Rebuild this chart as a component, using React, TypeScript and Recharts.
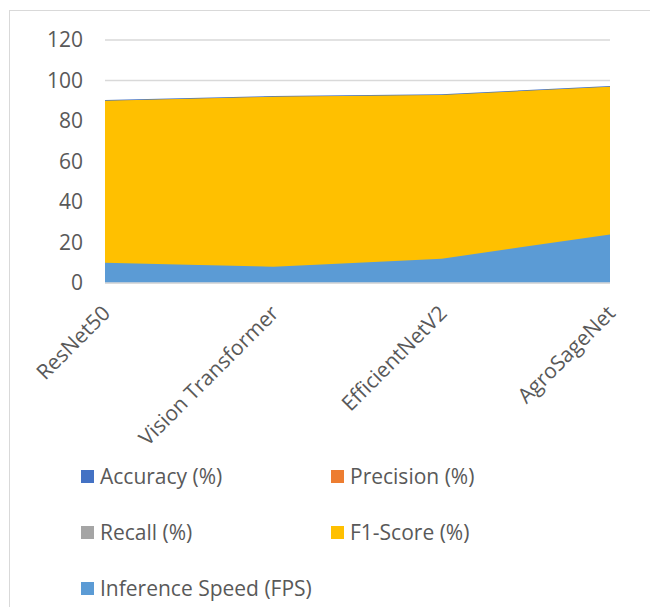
import { AreaChart, Area, XAxis, YAxis, CartesianGrid, Legend } from "recharts";

// model names on the category axis
const models = ["ResNet50", "Vision Transformer", "EfficientNetV2", "AgroSageNet"];

// series values
const accuracy = [90.4, 92.3, 93.2, 97.3];
const precision = [89.7, 91.8, 92.6, 96.7];
const recall = [89.5, 91.5, 92.4, 96.5];
const f1Score = [90.0, 92.0, 92.9, 96.9];
const inferenceSpeed = [10, 8, 12, 24];

const yTicks = [0, 20, 40, 60, 80, 100, 120];

const SERIES = [
  { key: "accuracy", name: "Accuracy (%)", color: "#4472C4" },
  { key: "precision", name: "Precision (%)", color: "#ED7D31" },
  { key: "recall", name: "Recall (%)", color: "#A5A5A5" },
  { key: "f1", name: "F1-Score (%)", color: "#FFC000" },
  { key: "speed", name: "Inference Speed (FPS)", color: "#5B9BD5" },
];

const FONT = "'Open Sans', sans-serif";
const TEXT = "#595959";

const data = models.map((model, i) => ({
  model,
  accuracy: accuracy[i],
  precision: precision[i],
  recall: recall[i],
  f1: f1Score[i],
  speed: inferenceSpeed[i],
}));

function LegendGrid() {
  return (
    <div style={{ display: "grid", gridTemplateColumns: "250px 250px", gridAutoRows: "56px" }}>
      {SERIES.map((s) => (
        <div key={s.key} style={{ display: "flex", alignItems: "center", fontFamily: FONT, fontSize: 21, color: TEXT, whiteSpace: "nowrap" }}>
          <span style={{ display: "inline-block", width: 13, height: 13, background: s.color, marginRight: 6 }} />
          {s.name}
        </div>
      ))}
    </div>
  );
}

export default function App() {
  // fixed box so the chart frame can run past the window edge without scrollbars
  return (
    <div
      style={{
        position: "fixed",
        left: 9,
        top: 10,
        width: 660,
        height: 620,
        borderTop: "1px solid #D9D9D9",
        borderLeft: "1px solid #D9D9D9",
        background: "#fff",
      }}
    >
      <AreaChart width={633} height={610} data={data} margin={{ top: 29, right: 33, left: 0, bottom: 22 }} style={{ fontFamily: FONT }}>
        <CartesianGrid vertical={false} stroke="#D9D9D9" strokeWidth={1.3} />
        <XAxis
          dataKey="model"
          height={316}
          interval={0}
          angle={-45}
          textAnchor="end"
          tickLine={false}
          tickMargin={15}
          axisLine={{ stroke: "#D9D9D9", strokeWidth: 1.3 }}
          tick={{ fill: TEXT, fontSize: 21, fontFamily: FONT, dx: -4 }}
        />
        <YAxis
          width={95}
          domain={[0, 120]}
          ticks={yTicks}
          axisLine={false}
          tickLine={false}
          tickMargin={16}
          tick={{ fill: TEXT, fontSize: 21, fontFamily: FONT }}
        />
        {SERIES.map((s) => (
          <Area
            key={s.key}
            type="linear"
            dataKey={s.key}
            name={s.name}
            fill={s.color}
            fillOpacity={1}
            stroke="none"
            dot={false}
            activeDot={false}
            isAnimationActive={false}
          />
        ))}
        <Legend
          layout="horizontal"
          verticalAlign="middle"
          align="center"
          content={() => <LegendGrid />}
          wrapperStyle={{ top: 437, left: 71, width: 520, height: 170 }}
        />
      </AreaChart>
    </div>
  );
}
